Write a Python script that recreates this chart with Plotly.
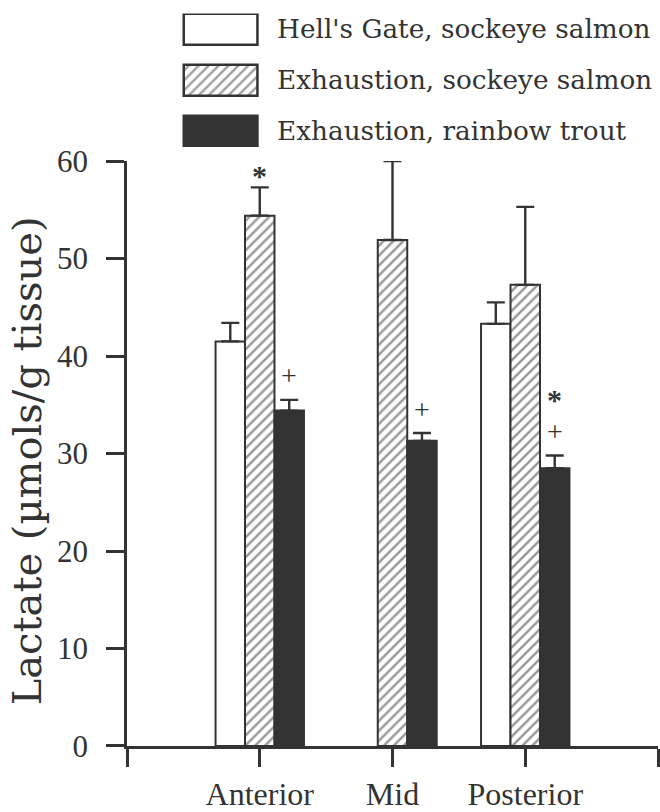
import plotly.graph_objects as go

# ---------------- data ----------------
categories = ["Anterior", "Mid", "Posterior"]
series_names = [
    "Hell's Gate, sockeye salmon",
    "Exhaustion, sockeye salmon",
    "Exhaustion, rainbow trout",
]
hells_gate_sockeye = [41.5, None, 43.3]
exhaustion_sockeye = [54.4, 51.9, 47.3]
exhaustion_trout = [34.4, 31.3, 28.5]

hells_gate_sockeye_err = [1.9, None, 2.2]
exhaustion_sockeye_err = [2.9, 8.1, 8.0]
exhaustion_trout_err = [1.1, 0.8, 1.3]

y_ticks = [0, 10, 20, 30, 40, 50, 60]
y_title = "Lactate (µmols/g tissue)"

# significance marks: (category, series index) -> marks listed bottom to top
sig_marks = {
    ("Anterior", 1): ["*"],
    ("Anterior", 2): ["+"],
    ("Mid", 2): ["+"],
    ("Posterior", 2): ["+", "*"],
}

values = [hells_gate_sockeye, exhaustion_sockeye, exhaustion_trout]
errors = [hells_gate_sockeye_err, exhaustion_sockeye_err, exhaustion_trout_err]

# ---------------- styles ----------------
INK = "#333333"
SERIF = "Liberation Serif"
WIDE_SERIF = "DejaVu Serif"
styles = [
    dict(color="white", shape=""),
    dict(color="white", shape="/"),
    dict(color=INK, shape=""),
]
BARGAP = 0.334
n_series = len(series_names)
bar_w = (1 - BARGAP) / n_series

fig = go.Figure()
x_pos = [i + 1 for i in range(len(categories))]

for s in range(n_series):
    fig.add_trace(go.Bar(
        x=x_pos, y=values[s], name=series_names[s],
        marker=dict(
            color=styles[s]["color"],
            line=dict(color=INK, width=2),
            pattern=dict(shape=styles[s]["shape"], fgcolor=INK, size=7, solidity=0.36),
        ),
        error_y=dict(type="data", symmetric=False, array=errors[s],
                     arrayminus=[0] * len(categories),
                     color=INK, thickness=2.4, width=9),
        showlegend=False, xaxis="x", yaxis="y",
    ))

# significance annotations
annotations = []
for (cat, s), marks in sig_marks.items():
    ci = categories.index(cat)
    xc = x_pos[ci] + (s - (n_series - 1) / 2) * bar_w
    top = values[s][ci] + errors[s][ci]
    for k, m in enumerate(marks):
        adj = -14 if m == "*" else -2
        annotations.append(dict(
            x=xc, y=top, xref="x", yref="y", text=m, showarrow=False,
            yanchor="middle", xanchor="center", yshift=26 + 44 * k + adj,
            font=dict(family=SERIF, size=30 if m == "*" else 28, color=INK,
                      weight="bold" if m == "*" else "normal"),
        ))

# custom legend with large swatches (separate hidden axes)
fig.add_trace(go.Bar(
    orientation="h", x=[1] * n_series, y=list(range(n_series)), base=0, width=0.61,
    marker=dict(
        color=[st["color"] for st in styles],
        line=dict(color=INK, width=2.5),
        pattern=dict(shape=[st["shape"] for st in styles], fgcolor=INK, size=7, solidity=0.36),
    ),
    showlegend=False, xaxis="x2", yaxis="y2", hoverinfo="skip",
))
for s in range(n_series):
    annotations.append(dict(
        x=0.2787, y=s, xref="paper", yref="y2", text=series_names[s],
        showarrow=False, xanchor="left", yanchor="middle",
        font=dict(family=WIDE_SERIF, size=26.3, color=INK),
    ))

# y-axis title
annotations.append(dict(
    x=-0.188, y=0.387, xref="paper", yref="paper", text=y_title, textangle=-90,
    showarrow=False, xanchor="center", yanchor="middle",
    font=dict(family=WIDE_SERIF, size=40, color=INK),
))

fig.update_layout(
    width=660, height=812,
    margin=dict(l=127, r=2, t=10, b=66, pad=0),
    paper_bgcolor="white", plot_bgcolor="white",
    barmode="group", bargap=BARGAP, bargroupgap=0,
    annotations=annotations,
    xaxis=dict(
        domain=[0, 1], range=[0, 4], anchor="y",
        tickmode="array", tickvals=[0] + x_pos + [len(categories) + 1],
        ticktext=[""] + categories + [""],
        ticks="outside", ticklen=18, tickwidth=2.5, tickcolor=INK,
        showline=True, linecolor=INK, linewidth=2.5,
        showgrid=False, zeroline=False, automargin=False,
        tickfont=dict(family=SERIF, size=32, color=INK),
        ticklabelstandoff=0,
    ),
    yaxis=dict(
        domain=[0, 0.7948], range=[0, 60], anchor="x",
        tickmode="array", tickvals=y_ticks,
        ticks="outside", ticklen=18, tickwidth=2.5, tickcolor=INK,
        showline=True, linecolor=INK, linewidth=2.5,
        showgrid=False, zeroline=False, automargin=False,
        tickfont=dict(family=SERIF, size=31, color=INK),
        ticklabelstandoff=12,
    ),
    xaxis2=dict(domain=[0.1027, 0.2498], range=[-0.03, 1.03], anchor="y2", visible=False),
    yaxis2=dict(domain=[0.8139, 0.9952], range=[2.31, -0.31], anchor="x2", visible=False),
)

fig.write_html("out.html")
